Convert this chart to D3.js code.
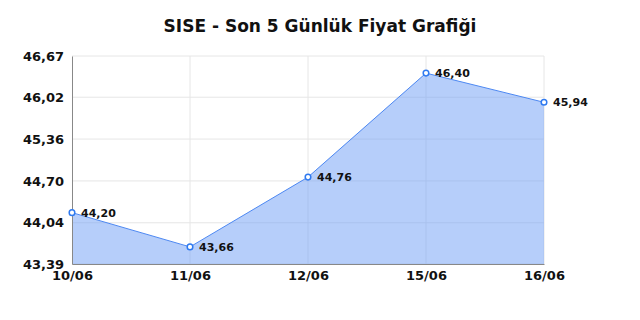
<!DOCTYPE html>
<html>
<head>
<meta charset="utf-8">
<script src="https://cdn.jsdelivr.net/npm/d3@7"></script>
<style>
body { margin: 0; background: #fff; }
text { font-family: "DejaVu Sans", sans-serif; font-weight: bold; }
</style>
</head>
<body>
<script>
var days = ["10/06", "11/06", "12/06", "15/06", "16/06"];
var prices = [44.20, 43.66, 44.76, 46.40, 45.94];
var yTicks = [43.39, 44.04, 44.70, 45.36, 46.02, 46.67];

var margin = {top: 56, right: 96, bottom: 56, left: 72},
  width = 640 - margin.left - margin.right,
  height = 320 - margin.top - margin.bottom;

var svg = d3.select("body")
  .append("svg")
  .attr("width", 640)
  .attr("height", 320);

svg.append("text")
  .attr("x", 320)
  .attr("y", 32)
  .attr("text-anchor", "middle")
  .style("font-size", "17px")
  .attr("fill", "#111")
  .text("SISE - Son 5 Günlük Fiyat Grafiği");

var g = svg.append("g")
  .attr("transform", "translate(" + margin.left + "," + margin.top + ")");

var x = d3.scalePoint()
  .domain(days)
  .range([0, width]);

var y = d3.scaleLinear()
  .domain([43.39, 46.67])
  .range([height, 0]);

var fmt = function(v) { return d3.format(".2f")(v).replace(".", ","); };

// grid
g.selectAll(".hgrid")
  .data(yTicks)
  .enter().append("line")
  .attr("x1", 0).attr("x2", width)
  .attr("y1", function(d) { return y(d); })
  .attr("y2", function(d) { return y(d); })
  .attr("stroke", "#e6e6e6");

g.selectAll(".vgrid")
  .data(days.slice(1))
  .enter().append("line")
  .attr("x1", function(d) { return x(d); })
  .attr("x2", function(d) { return x(d); })
  .attr("y1", 0).attr("y2", height)
  .attr("stroke", "#e6e6e6");

var area = d3.area()
  .x(function(d, i) { return x(days[i]); })
  .y0(height)
  .y1(function(d) { return y(d); });

g.append("path")
  .datum(prices)
  .attr("d", area)
  .attr("fill", "rgb(110,158,245)")
  .attr("fill-opacity", 0.5);

var line = d3.line()
  .x(function(d, i) { return x(days[i]); })
  .y(function(d) { return y(d); });

g.append("path")
  .datum(prices)
  .attr("d", line)
  .attr("fill", "none")
  .attr("stroke", "#4d88f2")
  .attr("stroke-width", 1);

// axes
var yAxis = g.append("g")
  .call(d3.axisLeft(y).tickValues(yTicks).tickSize(0).tickPadding(8).tickFormat(fmt));
yAxis.select(".domain").attr("stroke", "#888");
yAxis.selectAll("text").style("font-size", "13px").attr("fill", "#111");

var xAxis = g.append("g")
  .attr("transform", "translate(0," + height + ")")
  .call(d3.axisBottom(x).tickSize(0).tickPadding(7));
xAxis.select(".domain").attr("stroke", "#888");
xAxis.selectAll("text").style("font-size", "13px").attr("fill", "#111");

g.selectAll(".dot")
  .data(prices)
  .enter().append("circle")
  .attr("cx", function(d, i) { return x(days[i]); })
  .attr("cy", function(d) { return y(d); })
  .attr("r", 2.8)
  .attr("fill", "#fff")
  .attr("stroke", "#2f7af0")
  .attr("stroke-width", 1.5);

g.selectAll(".lbl")
  .data(prices)
  .enter().append("text")
  .attr("x", function(d, i) { return x(days[i]) + 9; })
  .attr("y", function(d) { return y(d) + 4; })
  .style("font-size", "11px")
  .attr("fill", "#111")
  .text(fmt);
</script>
</body>
</html>
